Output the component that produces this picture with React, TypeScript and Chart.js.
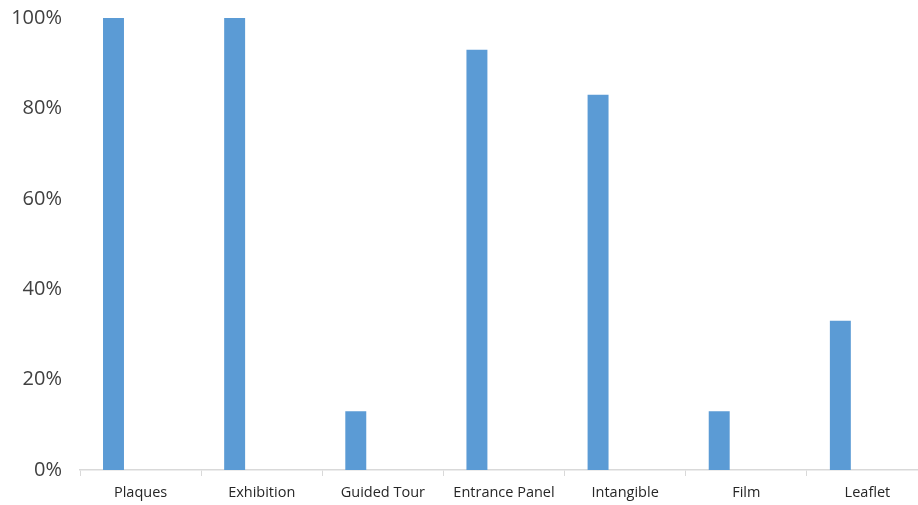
import React, { useEffect, useRef } from "react";
import { Chart, registerables } from "chart.js";

Chart.register(...registerables);

// Share of sites offering each type of interpretation
const categories = [
  "Plaques",
  "Exhibition",
  "Guided Tour",
  "Entrance Panel",
  "Intangible",
  "Film",
  "Leaflet",
];
const shareValues = [100, 100, 13, 93, 83, 13, 33];
const spacerValues = categories.map(() => null);
const yTicks = [0, 20, 40, 60, 80, 100];

const BAR_COLOR = "#5b9bd5";
const AXIS_COLOR = "#d9d9d9";
const TEXT_COLOR = "#404040";
const LABEL_COLOR = "#262626";
const FONT = "'Open Sans', 'DejaVu Sans', sans-serif";

export default function App() {
  const canvasRef = useRef<HTMLCanvasElement | null>(null);

  useEffect(() => {
    const canvas = canvasRef.current;
    if (!canvas) return;
    const chart = new Chart(canvas, {
      type: "bar",
      data: {
        labels: categories,
        datasets: [
          {
            label: "Share",
            data: shareValues,
            backgroundColor: BAR_COLOR,
            borderWidth: 0,
            categoryPercentage: 0.894,
            barPercentage: 0.387,
          },
          {
            label: "",
            data: spacerValues,
            backgroundColor: BAR_COLOR,
            borderWidth: 0,
            categoryPercentage: 0.894,
            barPercentage: 0.387,
          },
        ],
      },
      options: {
        responsive: false,
        animation: false,
        devicePixelRatio: 1,
        layout: { padding: { top: 18, right: 0, bottom: 0, left: 0 } },
        plugins: {
          legend: { display: false },
          tooltip: { enabled: false },
        },
        scales: {
          x: {
            grid: {
              display: true,
              offset: true,
              drawOnChartArea: false,
              drawTicks: true,
              tickLength: 6,
              color: AXIS_COLOR,
              lineWidth: 1,
            },
            border: { display: true, color: AXIS_COLOR, width: 1.5 },
            ticks: {
              color: LABEL_COLOR,
              font: { family: FONT, size: 14.5 },
              padding: 8,
              maxRotation: 0,
              autoSkip: false,
            },
            afterFit: (scale: any) => {
              scale.height = 35;
              scale.paddingLeft = 0;
              scale.paddingRight = 0;
            },
          },
          y: {
            min: 0,
            max: 100,
            afterBuildTicks: (scale: any) => {
              scale.ticks = yTicks.map((v) => ({ value: v }));
            },
            grid: { display: false, drawTicks: false },
            border: { display: false },
            ticks: {
              color: TEXT_COLOR,
              font: { family: FONT, size: 20 },
              padding: 18,
              callback: (v: any) => `${v}%`,
            },
            afterFit: (scale: any) => {
              scale.width = 80;
              scale.paddingTop = 0;
              scale.paddingBottom = 0;
            },
          },
        },
      },
    });
    return () => chart.destroy();
  }, []);

  return (
    <div
      style={{
        position: "fixed",
        left: 0,
        top: 0,
        width: 918,
        height: 505,
        overflow: "hidden",
        background: "#ffffff",
      }}
    >
      <canvas ref={canvasRef} width={928} height={505} style={{ display: "block" }} />
    </div>
  );
}
